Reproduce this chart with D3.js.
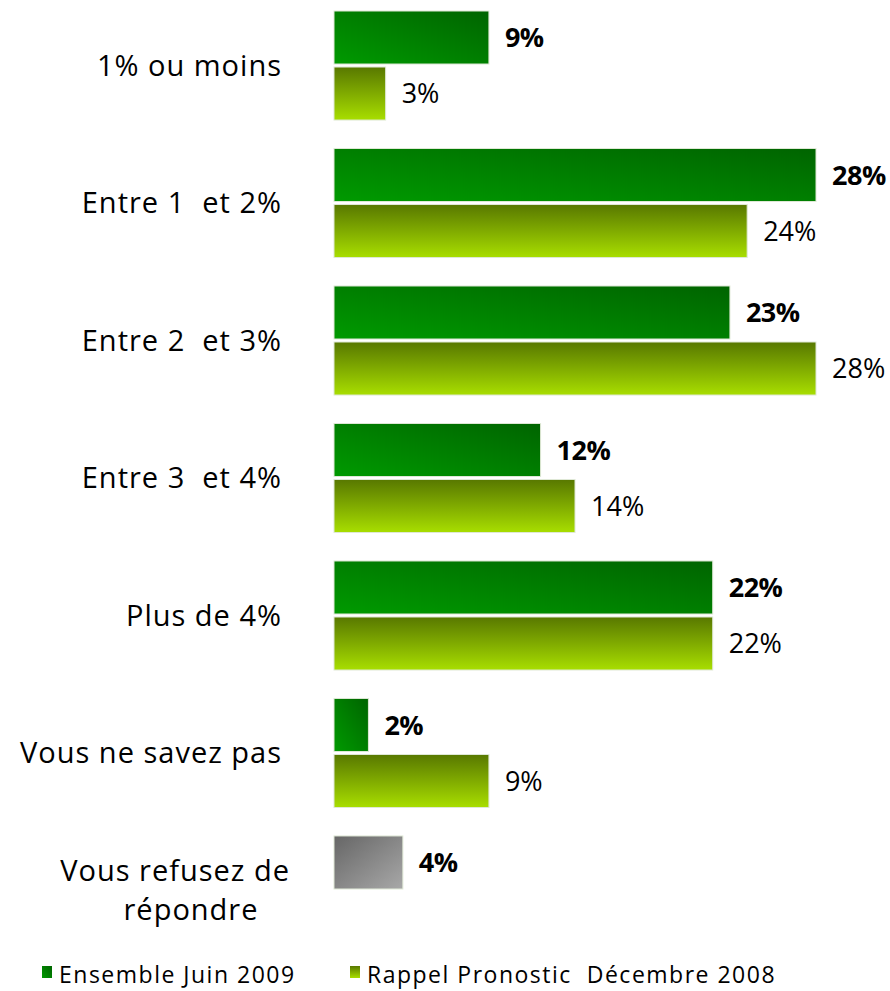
<!DOCTYPE html>
<html>
<head>
<meta charset="utf-8">
<script src="https://cdnjs.cloudflare.com/ajax/libs/d3/7.8.5/d3.min.js"></script>
<style>
  body { margin: 0; background: #fff; }
  svg text { font-family: "Open Sans", "DejaVu Sans", sans-serif; fill: #000; }
</style>
</head>
<body>
<svg id="chart"></svg>
<script>
const categories = ["1% ou moins", "Entre 1  et 2%", "Entre 2  et 3%", "Entre 3  et 4%", "Plus de 4%", "Vous ne savez pas", "Vous refusez de|répondre"];
const juin2009 = [9, 28, 23, 12, 22, 2, 4];
const dec2008 = [3, 24, 28, 14, 22, 9, null];
const seriesNames = ["Ensemble Juin 2009", "Rappel Pronostic  Décembre 2008"];

const width = 890, height = 991;
const x0 = 334;

const svg = d3.select('#chart')
  .attr('width', width)
  .attr('height', height);

const defs = svg.append('defs');
function gradient(id, x1, y1, x2, y2, c1, c2) {
  const g = defs.append('linearGradient').attr('id', id)
    .attr('x1', x1).attr('y1', y1).attr('x2', x2).attr('y2', y2);
  g.append('stop').attr('offset', '0%').attr('stop-color', c1);
  g.append('stop').attr('offset', '100%').attr('stop-color', c2);
}
gradient('gDark', '0%', '100%', '100%', '0%', '#009a00', '#006400');
gradient('gLight', '0%', '0%', '0%', '100%', '#587800', '#a8de00');
gradient('gGray', '0%', '0%', '100%', '100%', '#666666', '#a8a8a8');

const x = d3.scaleLinear().domain([0, 28]).range([x0, 816]);

const y = d3.scaleBand()
  .domain(categories)
  .range([11, 945])
  .paddingInner(0.207)
  .paddingOuter(0);

const yInner = d3.scaleBand()
  .domain([0, 1])
  .range([0, y.bandwidth()])
  .paddingInner(0.0536);

const rows = categories.map((c, i) => ({ cat: c, vals: [juin2009[i], dec2008[i]] }));

const group = svg.append('g').selectAll('g')
  .data(rows)
  .join('g')
  .attr('transform', d => `translate(0,${y(d.cat)})`);

const bars = group.selectAll('g.bar')
  .data(d => d.vals.map((v, k) => ({ v, k, cat: d.cat })).filter(d => d.v !== null))
  .join('g').attr('class', 'bar');

bars.append('rect')
  .attr('x', x(0))
  .attr('y', d => yInner(d.k))
  .attr('width', d => x(d.v) - x(0))
  .attr('height', yInner.bandwidth())
  .attr('fill', d => d.cat.startsWith('Vous refusez') ? 'url(#gGray)' : (d.k === 0 ? 'url(#gDark)' : 'url(#gLight)'))
  .attr('stroke', '#dfe8d6')
  .attr('stroke-width', 1);

bars.append('text')
  .attr('x', d => x(d.v) + 16)
  .attr('y', d => yInner(d.k) + yInner.bandwidth() / 2)
  .attr('dy', '0.36em')
  .attr('font-size', 27)
  .attr('font-weight', d => d.k === 0 ? 'bold' : 'normal')
  .attr('letter-spacing', d => d.k === 0 ? -0.5 : 0)
  .text(d => d.v + '%');

// category labels
group.append('text')
  .attr('font-size', 29)
  .attr('letter-spacing', 1)
  .style('white-space', 'pre')
  .each(function(d) {
    const lines = d.cat.split('|');
    const t = d3.select(this);
    const mid = y.bandwidth() / 2;
    lines.forEach((l, j) => {
      t.append('tspan')
        .attr('x', lines.length > 1 ? (j === 0 ? 290 : 191) : 282)
        .attr('text-anchor', lines.length > 1 && j === 1 ? 'middle' : 'end')
        .attr('y', mid + (j - (lines.length - 1) / 2) * 39)
        .attr('dy', '0.36em')
        .text(l);
    });
  });

// legend
const legend = svg.append('g');
const lx = [42, 350];
seriesNames.forEach((n, i) => {
  legend.append('rect')
    .attr('x', lx[i]).attr('y', 966)
    .attr('width', 10).attr('height', 12)
    .attr('fill', i === 0 ? 'url(#gDark)' : 'url(#gLight)');
  legend.append('text')
    .attr('x', lx[i] + 17).attr('y', 975)
    .attr('dy', '0.36em')
    .attr('font-size', 23)
    .attr('letter-spacing', 1.5)
    .style('white-space', 'pre')
    .text(n);
});
</script>
</body>
</html>
